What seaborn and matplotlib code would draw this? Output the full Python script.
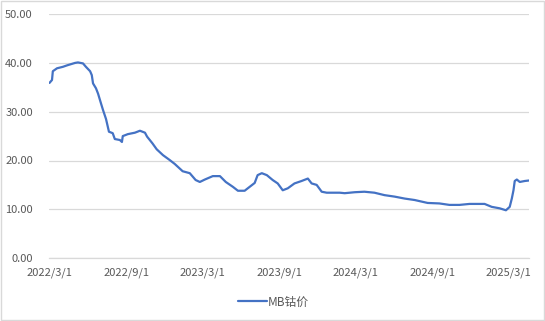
import matplotlib
matplotlib.use("Agg")
import matplotlib.pyplot as plt
import seaborn as sns
import pandas as pd
from matplotlib.lines import Line2D

dates = ["2022-03-01", "2022-03-07", "2022-03-09", "2022-03-19", "2022-04-02", "2022-04-12",
         "2022-05-01", "2022-05-08", "2022-05-20", "2022-05-27", "2022-06-06", "2022-06-10",
         "2022-06-13", "2022-06-20", "2022-06-25", "2022-07-02", "2022-07-07", "2022-07-14",
         "2022-07-21", "2022-07-30", "2022-08-04", "2022-08-16", "2022-08-21", "2022-08-23",
         "2022-09-04", "2022-09-21", "2022-10-03", "2022-10-15", "2022-10-20", "2022-11-02",
         "2022-11-12", "2022-11-27", "2022-12-13", "2022-12-25", "2023-01-13",
         "2023-01-30", "2023-02-13", "2023-02-23", "2023-03-07", "2023-03-26", "2023-04-12",
         "2023-04-26", "2023-05-13", "2023-05-25", "2023-06-10", "2023-06-22",
         "2023-07-04", "2023-07-11", "2023-07-21", "2023-08-02", "2023-08-16", "2023-08-28",
         "2023-09-09", "2023-09-21", "2023-10-07", "2023-10-24", "2023-11-08", "2023-11-17",
         "2023-11-29", "2023-12-11", "2023-12-23", "2024-01-23", "2024-02-04", "2024-02-28",
         "2024-03-22", "2024-04-15", "2024-05-09", "2024-06-02", "2024-06-26", "2024-07-20",
         "2024-08-20", "2024-09-17", "2024-10-11", "2024-11-04", "2024-11-28", "2025-01-03",
         "2025-01-20", "2025-02-08", "2025-02-23", "2025-03-04", "2025-03-09", "2025-03-13",
         "2025-03-16", "2025-03-21", "2025-03-28", "2025-04-09", "2025-04-19"]
prices = [35.9, 36.5, 38.3, 38.9, 39.2, 39.5,
          40.0, 40.1, 39.9, 39.2, 38.3, 37.5,
          35.8, 34.8, 33.7, 31.7, 30.3, 28.5,
          25.9, 25.6, 24.4, 24.2, 23.8, 25.0,
          25.4, 25.7, 26.1, 25.7, 24.9, 23.5,
          22.3, 21.1, 20.1, 19.3, 17.8,
          17.4, 16.0, 15.6, 16.1, 16.8, 16.8,
          15.6, 14.6, 13.8, 13.8, 14.6,
          15.4, 17.0, 17.4, 17.0, 16.0, 15.3,
          13.9, 14.3, 15.3, 15.8, 16.3, 15.3,
          15.0, 13.6, 13.4, 13.4, 13.3, 13.5,
          13.6, 13.4, 12.9, 12.6, 12.2, 11.9,
          11.3, 11.2, 10.9, 10.9, 11.1, 11.1,
          10.5, 10.2, 9.8, 10.5, 12.2, 13.9,
          15.8, 16.1, 15.6, 15.8, 15.9]
series_name = "MB钴价"
x_ticks = ["2022-03-01", "2022-09-01", "2023-03-01", "2023-09-01", "2024-03-01", "2024-09-01", "2025-03-01"]
x_tick_labels = ["2022/3/1", "2022/9/1", "2023/3/1", "2023/9/1", "2024/3/1", "2024/9/1", "2025/3/1"]
y_ticks = [0, 10, 20, 30, 40, 50]

df = pd.DataFrame({"date": pd.to_datetime(dates), "price": prices, "series": series_name})

sns.set_theme(style="white")
plt.rcParams["font.family"] = ["Noto Sans CJK SC", "DejaVu Sans"]

fig = plt.figure(figsize=(5.45, 3.21), dpi=100)
ax = fig.add_axes([0.0908, 0.196, 0.8798, 0.760])

line_c = "#4472C4"
sns.lineplot(data=df, x="date", y="price", hue="series", palette=[line_c],
             linewidth=1.6, ax=ax, legend=False)

ax.set_xlim(pd.Timestamp("2022-03-01"), pd.Timestamp("2025-04-19"))
ax.set_ylim(0, 50)
ax.set_yticks(y_ticks)
ax.set_yticklabels([f"{v:.2f}" for v in y_ticks])
ax.set_xticks(pd.to_datetime(x_ticks))
ax.set_xticklabels(x_tick_labels)
ax.set_xlabel("")
ax.set_ylabel("")

grid_c = "#D9D9D9"
ax.grid(axis="y", color=grid_c, linewidth=0.9)
ax.set_axisbelow(True)
for s in ["top", "right", "left"]:
    ax.spines[s].set_visible(False)
ax.spines["bottom"].set_color(grid_c)
ax.spines["bottom"].set_linewidth(0.9)
ax.tick_params(axis="x", colors="#595959", length=5, width=0.9, color=grid_c, labelsize=8, pad=2)
ax.tick_params(axis="y", colors="#595959", length=0, labelsize=8, pad=12)

handle = Line2D([0], [0], color=line_c, linewidth=1.6)
fig.legend([handle], [series_name], loc="center", bbox_to_anchor=(0.502, 0.059),
           frameon=False, fontsize=8.5, labelcolor="#595959", handlelength=2.4,
           handletextpad=0.1)

fig.patches.append(plt.Rectangle((0.001, 0.002), 0.997, 0.995, transform=fig.transFigure,
                                 fill=False, edgecolor="#D9D9D9", linewidth=1.0))

fig.savefig("out.png", dpi=100, facecolor="white")
